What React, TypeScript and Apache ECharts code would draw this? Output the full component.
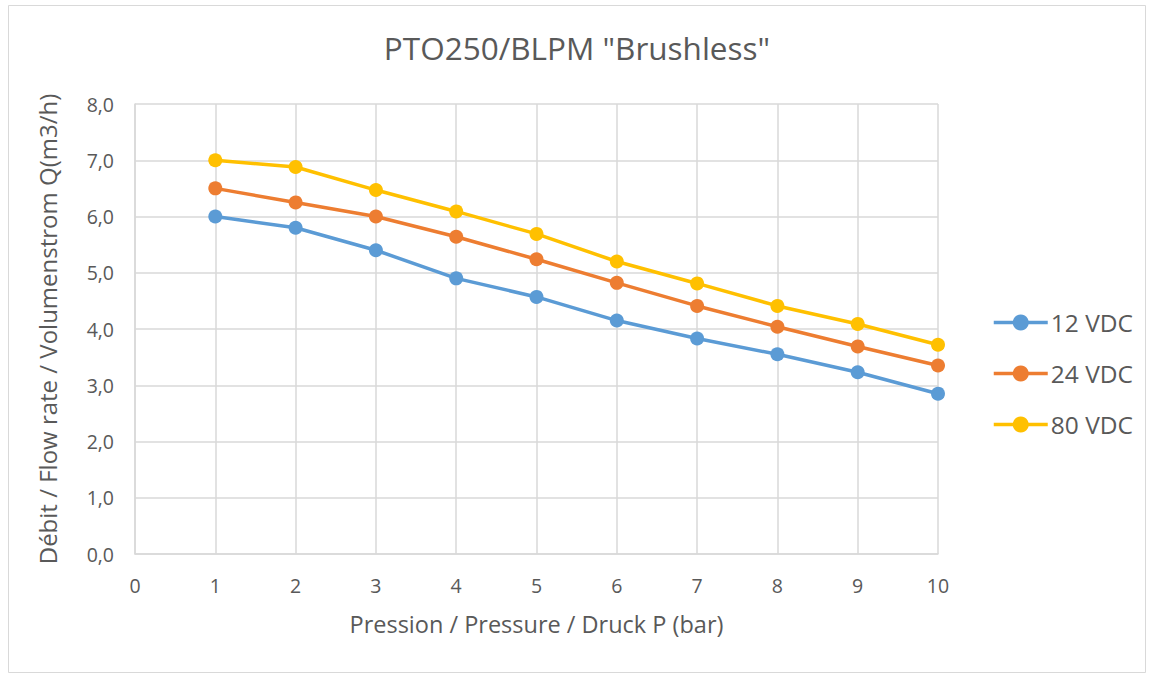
import React, { useEffect, useRef } from "react";
import * as echarts from "echarts";

const pressures = [1, 2, 3, 4, 5, 6, 7, 8, 9, 10];
const flow12 = [6.0, 5.8, 5.4, 4.9, 4.57, 4.15, 3.83, 3.55, 3.23, 2.85];
const flow24 = [6.5, 6.25, 6.0, 5.64, 5.24, 4.82, 4.41, 4.04, 3.69, 3.35];
const flow80 = [7.0, 6.88, 6.47, 6.09, 5.69, 5.2, 4.81, 4.41, 4.09, 3.72];
const seriesNames = ["12 VDC", "24 VDC", "80 VDC"];
const seriesColors = ["#5B9BD5", "#ED7D31", "#FFC000"];

const FONT = "'Open Sans', 'Noto Sans', sans-serif";
const TEXT = "#595959";

export default function App() {
  const ref = useRef<HTMLDivElement>(null);
  useEffect(() => {
    if (!ref.current) return;
    const chart = echarts.init(ref.current, undefined, { renderer: "svg" });
    const allData = [flow12, flow24, flow80];
    chart.setOption({
      animation: false,
      backgroundColor: "#ffffff",
      textStyle: { fontFamily: FONT },
      title: {
        text: 'PTO250/BLPM "Brushless"',
        left: "center",
        top: 26,
        textStyle: { fontFamily: FONT, fontSize: 31.5, fontWeight: "normal", color: TEXT },
      },
      graphic: [
        {
          type: "rect",
          shape: { x: 8.5, y: 5.5, width: 1137, height: 667 },
          style: { fill: "none", stroke: "#d9d9d9", lineWidth: 1 },
          silent: true,
        },
      ],
      legend: {
        orient: "vertical",
        left: 987,
        top: 305,
        itemWidth: 54,
        itemHeight: 20,
        itemGap: 26,
        data: seriesNames,
        lineStyle: { width: 3.5 },
        textStyle: {
          fontFamily: FONT,
          fontSize: 24.5,
          color: TEXT,
          padding: [0, 0, 0, -2],
        },
      },
      grid: { left: 135, right: 216, top: 104, bottom: 120, containLabel: false },
      xAxis: {
        type: "value",
        min: 0,
        max: 10,
        interval: 1,
        name: "Pression / Pressure / Druck P (bar)",
        nameLocation: "middle",
        nameGap: 58,
        nameTextStyle: { fontFamily: FONT, fontSize: 23.5, color: TEXT },
        axisLine: { show: true, lineStyle: { color: "#d9d9d9", width: 1.5 } },
        axisTick: { show: false },
        axisLabel: { fontFamily: FONT, fontSize: 19.5, color: TEXT, margin: 21 },
        splitLine: { show: true, lineStyle: { color: "#d9d9d9", width: 1.5 } },
      },
      yAxis: {
        type: "value",
        min: 0,
        max: 8,
        interval: 1,
        name: "Débit / Flow rate / Volumenstrom Q(m3/h)",
        nameLocation: "middle",
        nameGap: 76,
        nameTextStyle: { fontFamily: FONT, fontSize: 24, color: TEXT },
        axisLine: { show: true, lineStyle: { color: "#d9d9d9", width: 1.5 } },
        axisTick: { show: false },
        axisLabel: {
          fontFamily: FONT,
          fontSize: 19.5,
          color: TEXT,
          margin: 21,
          formatter: (v: number) => v.toFixed(1).replace(".", ","),
        },
        splitLine: { show: true, lineStyle: { color: "#d9d9d9", width: 1.5 } },
      },
      series: seriesNames.map((name, i) => ({
        name,
        type: "line",
        data: pressures.map((p, j) => [p, allData[i][j]]),
        symbol: "circle",
        symbolSize: 14,
        lineStyle: { width: 3.5, color: seriesColors[i] },
        itemStyle: { color: seriesColors[i] },
      })),
    });
    return () => chart.dispose();
  }, []);
  return (
    <div
      ref={ref}
      style={{ position: "fixed", left: 0, top: 0, width: 1154, height: 674 }}
    />
  );
}
